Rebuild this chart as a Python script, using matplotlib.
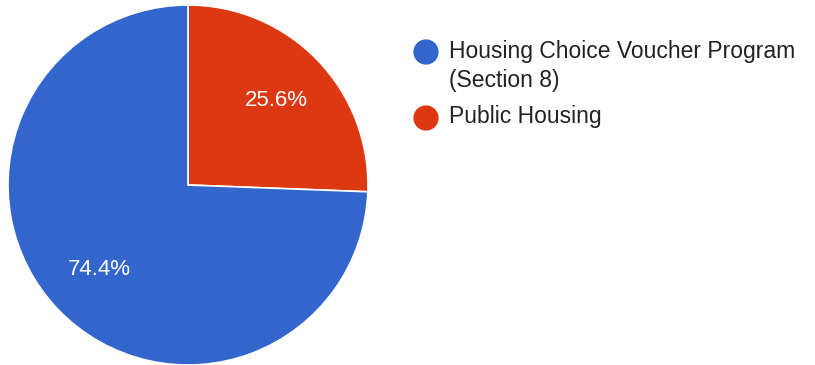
import matplotlib.pyplot as plt

programs = ['Housing Choice Voucher Program\n(Section 8)', 'Public Housing']
shares = [74.4, 25.6]
colors = ['#3366cc', '#dc3912']

plt.rcParams['font.family'] = ['Liberation Sans', 'DejaVu Sans']

W, H = 815, 365
fig = plt.figure(figsize=(W / 100, H / 100), dpi=100)
ax = fig.add_axes([8 / W, 0 / H, 360 / W, 360 / H])

# red slice first from 12 o'clock going clockwise, blue takes the rest
wedges, texts, autotexts = ax.pie(
    shares[::-1], colors=colors[::-1], startangle=90, counterclock=False,
    autopct='%.1f%%', pctdistance=0.68,
    wedgeprops={'edgecolor': 'white', 'linewidth': 1.2},
    textprops={'color': 'white', 'fontsize': 16})
ax.set_xlim(-1, 1)
ax.set_ylim(-1, 1)
ax.set_aspect('equal')

# legend laid out by hand in pixel coordinates (y from top);
# baseline of a multi-line label is its last line
lax = fig.add_axes([0, 0, 1, 1])
lax.set_xlim(0, W)
lax.set_ylim(H, 0)
lax.axis('off')
marker_y = [52, 118]
text_y = [87, 123]
for name, col, my, ty in zip(programs, colors, marker_y, text_y):
    lax.scatter([426], [my], s=330, color=col, edgecolors='none')
    lax.text(449, ty, name, fontsize=16.5, color='#222222', va='baseline',
             ha='left', linespacing=1.35)

fig.savefig('out.png', dpi=100)
